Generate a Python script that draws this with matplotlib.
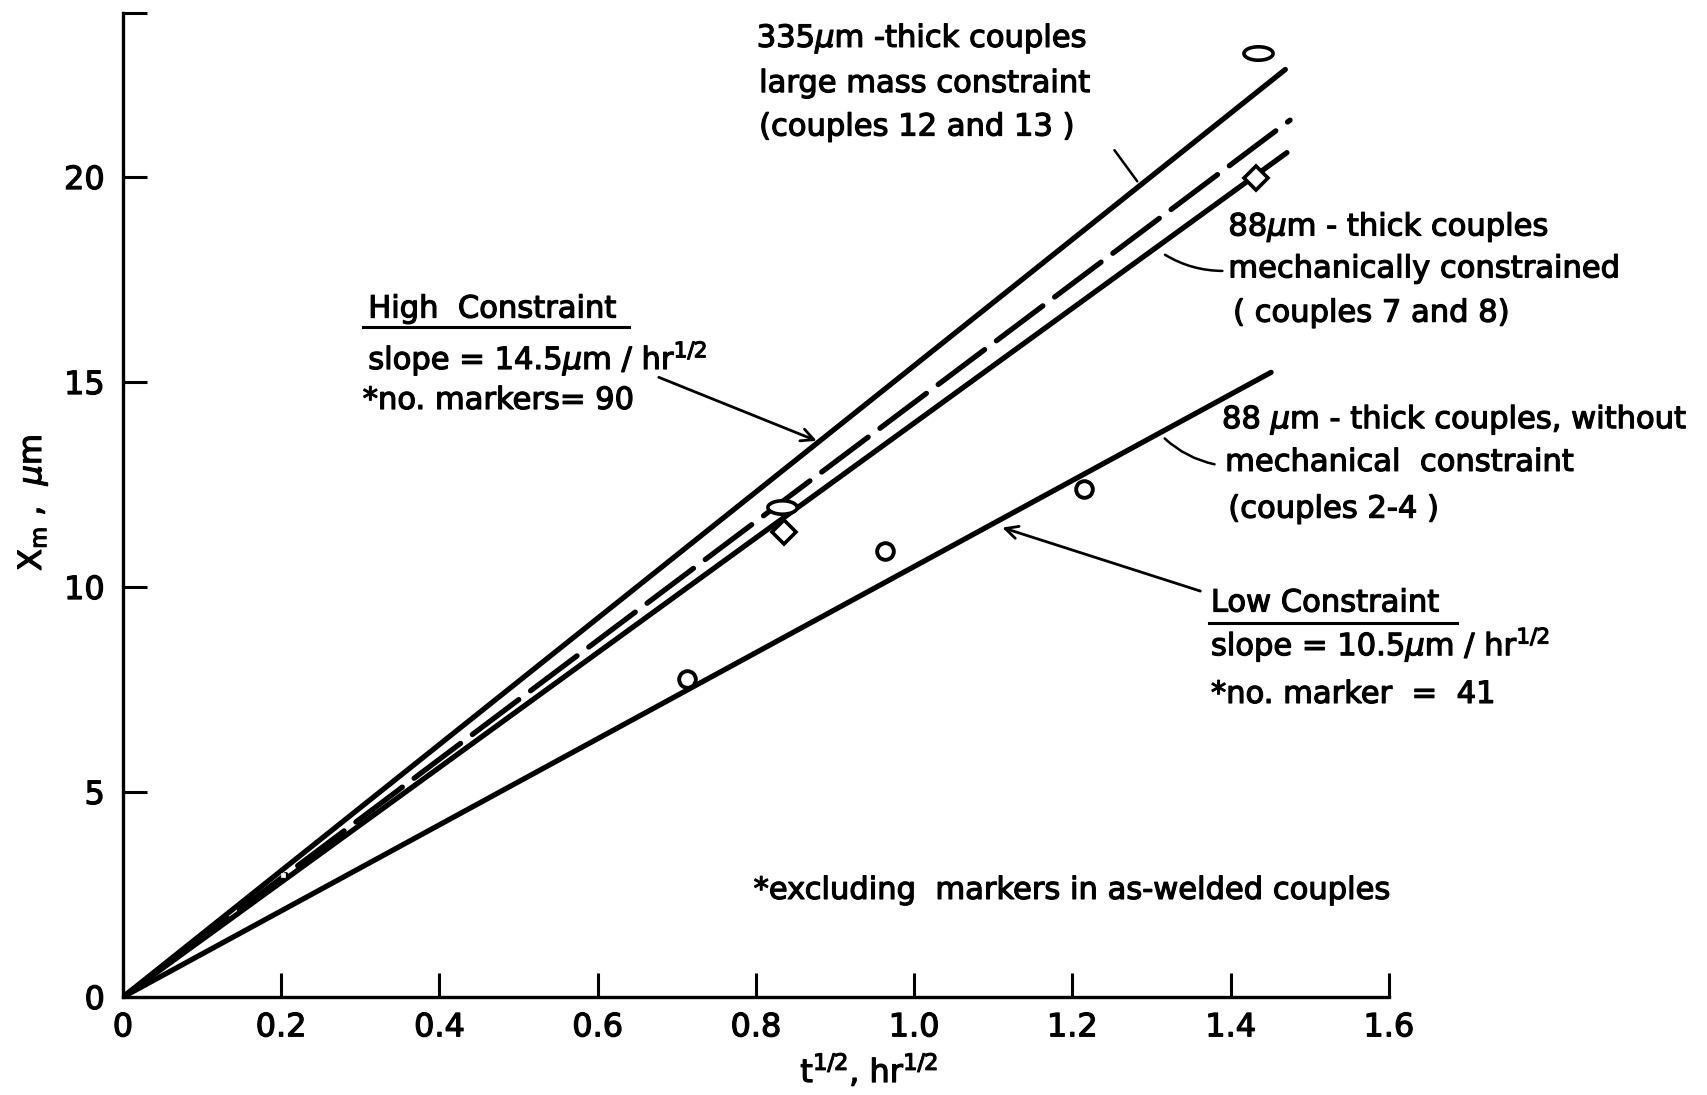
import numpy as np
import matplotlib
matplotlib.use("Agg")
import matplotlib.pyplot as plt
import matplotlib.patheffects as pe
from matplotlib.path import Path

plt.rcParams['font.family'] = ['DejaVu Sans']
plt.rcParams['mathtext.fontset'] = 'dejavusans'

# Fitted lines through the origin: slope (um / hr^1/2) and last t^1/2 value
line_names = ["335um large mass", "high constraint", "88um mech. constrained", "low constraint"]
line_slopes = [15.4, 14.5, 14.0, 10.5]
line_x_end = [1.469, 1.475, 1.471, 1.451]

# Measured marker displacements
ellipse_t = [0.833, 1.434]
ellipse_x = [11.95, 23.02]
diamond_t = [0.835, 1.432, 0.202]
diamond_x = [11.34, 19.97, 2.97]
circle_t = [0.713, 0.9635, 1.215]
circle_x = [7.75, 10.89, 12.40]

x_ticks = [0, 0.2, 0.4, 0.6, 0.8, 1.0, 1.2, 1.4, 1.6]
x_tick_labels = ["0", "0.2", "0.4", "0.6", "0.8", "1.0", "1.2", "1.4", "1.6"]
y_ticks = [0, 5, 10, 15, 20, 24]
y_tick_labels = ["0", "5", "10", "15", "20", ""]

# slightly heavier lettering
heavy = [pe.withStroke(linewidth=0.9, foreground="black")]

fig = plt.figure(figsize=(17.08, 10.95), dpi=100)
ax = fig.add_axes([0.0720, 0.0895, 0.7412, 0.8986])
ax.set_xlim(0, 1.6)
ax.set_ylim(0, 24)

for s in ("top", "right"):
    ax.spines[s].set_visible(False)
for s in ("left", "bottom"):
    ax.spines[s].set_linewidth(2.4)

ax.set_xticks(x_ticks)
ax.set_xticklabels(x_tick_labels)
ax.set_yticks(y_ticks)
ax.set_yticklabels(y_tick_labels)
ax.tick_params(direction="in", length=17, width=2.2, labelsize=23, pad=11)
ax.tick_params(axis="y", pad=13)
for lab in ax.get_xticklabels() + ax.get_yticklabels():
    lab.set_path_effects(heavy)

lw = 3.8
styles = ["-", (0, (11.0, 2.8)), "-", "-"]
for slope, xe, ls in zip(line_slopes, line_x_end, styles):
    xs = np.array([0.0, xe])
    ax.plot(xs, slope * xs, color="black", lw=lw, linestyle=ls,
            solid_capstyle="round", dash_capstyle="round", zorder=2)

# Flattened open ellipse marker
th = np.linspace(0, 2 * np.pi, 60)
ellipse_marker = Path(np.column_stack([np.cos(th), 0.46 * np.sin(th)]), closed=True)

ax.plot(ellipse_t, ellipse_x, linestyle="none", marker=ellipse_marker, markersize=21,
        markerfacecolor="white", markeredgecolor="black", markeredgewidth=2.6, zorder=3)
ax.plot(diamond_t[:2], diamond_x[:2], linestyle="none", marker="D", markersize=12,
        markerfacecolor="white", markeredgecolor="black", markeredgewidth=2.6, zorder=3)
ax.plot(diamond_t[2:], diamond_x[2:], linestyle="none", marker="s", markersize=3,
        markerfacecolor="white", markeredgecolor="white", markeredgewidth=0.5, zorder=3)
ax.plot(circle_t, circle_x, linestyle="none", marker="o", markersize=12,
        markerfacecolor="white", markeredgecolor="black", markeredgewidth=2.8, zorder=3)

fs = 22
kw = dict(fontsize=fs, ha="left", va="center", clip_on=False, path_effects=heavy)

# 335 um couples
ax.text(0.801, 23.37, r"335$\mu$m -thick couples", **kw)
ax.text(0.804, 22.28, "large mass constraint", **kw)
ax.text(0.804, 21.22, "(couples 12 and 13 )", **kw)
ax.annotate("", xy=(1.284, 19.84), xytext=(1.251, 20.71),
            arrowprops=dict(arrowstyle="-", lw=1.8, color="black"), annotation_clip=False)

# 88 um mechanically constrained
ax.text(1.397, 18.77, r"88$\mu$m - thick couples", **kw)
ax.text(1.397, 17.76, "mechanically constrained", **kw)
ax.text(1.403, 16.68, "( couples 7 and 8)", **kw)
ax.annotate("", xy=(1.393, 17.71), xytext=(1.314, 18.14),
            arrowprops=dict(arrowstyle="-", lw=1.8, color="black",
                            connectionstyle="arc3,rad=0.15"), annotation_clip=False)

# High constraint block
ax.text(0.310, 16.78, "High  Constraint", **kw)
ax.plot([0.303, 0.639], [16.33, 16.33], color="black", lw=2.2, clip_on=False)
ax.text(0.310, 15.56, r"slope = 14.5$\mu$m / hr$^{1/2}$", **kw)
ax.text(0.303, 14.55, "*no. markers= 90", **kw)
ax.annotate("", xy=(0.880, 13.54), xytext=(0.674, 15.14),
            arrowprops=dict(arrowstyle="->,head_length=0.9,head_width=0.45",
                            lw=2.0, color="black"), annotation_clip=False)

# 88 um without constraint
ax.text(1.389, 14.07, r"88 $\mu$m - thick couples, without", **kw)
ax.text(1.393, 13.04, "mechanical  constraint", **kw)
ax.text(1.397, 11.90, "(couples 2-4 )", **kw)
ax.annotate("", xy=(1.383, 12.98), xytext=(1.314, 13.67),
            arrowprops=dict(arrowstyle="-", lw=1.8, color="black",
                            connectionstyle="arc3,rad=0.15"), annotation_clip=False)

# Low constraint block
ax.text(1.375, 9.61, "Low Constraint", **kw)
ax.plot([1.372, 1.686], [9.13, 9.13], color="black", lw=2.2, clip_on=False)
ax.text(1.375, 8.58, r"slope = 10.5$\mu$m / hr$^{1/2}$", **kw)
ax.text(1.375, 7.38, "*no. marker  =  41", **kw)
ax.annotate("", xy=(1.108, 11.47), xytext=(1.365, 9.88),
            arrowprops=dict(arrowstyle="->,head_length=0.9,head_width=0.45",
                            lw=2.0, color="black"), annotation_clip=False)

ax.text(0.797, 2.60, "*excluding  markers in as-welded couples", **kw)

fig.text(0.509, 0.022, r"t$^{1/2}$, hr$^{1/2}$", fontsize=23, ha="center", va="center",
         path_effects=heavy)
fig.text(0.0193, 0.541, r"X$_{\rm m}$ ,  $\mu$m", fontsize=23, ha="center", va="center",
         rotation=90, path_effects=heavy)

fig.savefig("out.png", dpi=100, facecolor="white")
